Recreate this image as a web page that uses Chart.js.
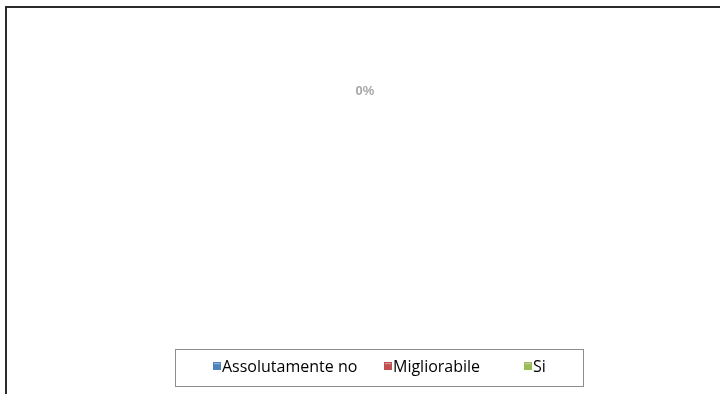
<!DOCTYPE html>
<html>
<head>
<meta charset="utf-8">
<script src="https://cdn.jsdelivr.net/npm/chart.js@4.4.0/dist/chart.umd.min.js"></script>
<style>
  body { margin: 0; background: #fff; }
  #frame { position: absolute; left: 5px; top: 6px; width: 800px; height: 500px;
           border-left: 2px solid #2b2b2b; border-top: 2px solid #2b2b2b; }
  #wrap { position: absolute; left: 0; top: 0; width: 720px; height: 394px; }
</style>
</head>
<body>
<div id="frame"></div>
<div id="wrap"><canvas id="chart" width="720" height="394"></canvas></div>
<script>
const labels = ['Assolutamente no', 'Migliorabile', 'Si'];
const values = [0, 0, 0];
const colors = ['#4f81bd', '#c0504d', '#9bbb59'];
const fontFam = '"Open Sans", "Liberation Sans", Arial, sans-serif';

// percent label drawn above the (empty) pie
const pctLabel = {
  id: 'pctLabel',
  afterDatasetsDraw(chart) {
    const ctx = chart.ctx;
    const arc = chart.getDatasetMeta(0).data[0];
    const total = values.reduce((a, b) => a + b, 0);
    const pct = total ? Math.round(values[0] / total * 100) : 0;
    ctx.save();
    ctx.font = 'bold 13px "Liberation Sans", Arial, sans-serif';
    ctx.fillStyle = '#a6a6a6';
    ctx.textAlign = 'center';
    ctx.textBaseline = 'middle';
    ctx.fillText(pct + '%', arc.x, arc.y - arc.outerRadius * 0.585);
    ctx.restore();
  }
};

// Excel-like legend inside a bordered box
const boxLegend = {
  id: 'boxLegend',
  afterDraw(chart) {
    const ctx = chart.ctx;
    const left = 175, top = 349, right = 583, bottom = 386;
    ctx.save();
    ctx.strokeStyle = '#8c8c8c';
    ctx.lineWidth = 1;
    ctx.strokeRect(left + 0.5, top + 0.5, right - left, bottom - top);
    ctx.font = '16px ' + fontFam;
    ctx.textBaseline = 'middle';
    const sq = 8;
    const itemX = [213, 384, 524];
    const cy = 366;
    labels.forEach((l, i) => {
      const x = itemX[i];
      const g = ctx.createLinearGradient(0, cy - sq / 2, 0, cy + sq / 2);
      g.addColorStop(0, '#dfe8f0');
      g.addColorStop(0.35, colors[i]);
      g.addColorStop(1, colors[i]);
      ctx.fillStyle = g;
      ctx.fillRect(x, cy - sq / 2, sq, sq);
      ctx.strokeStyle = colors[i];
      ctx.strokeRect(x + 0.5, cy - sq / 2 + 0.5, sq - 1, sq - 1);
      ctx.fillStyle = '#000';
      ctx.fillText(l, x + sq + 1, cy + 1.5);
    });
    ctx.restore();
  }
};

new Chart(document.getElementById('chart'), {
  type: 'pie',
  data: {
    labels: labels,
    datasets: [{ data: values, backgroundColor: colors, borderWidth: 0 }]
  },
  options: {
    responsive: false,
    animation: false,
    layout: { padding: { top: 30, bottom: 70, left: 30, right: 20 } },
    plugins: { legend: { display: false }, tooltip: { enabled: false } }
  },
  plugins: [pctLabel, boxLegend]
});
</script>
</body>
</html>
